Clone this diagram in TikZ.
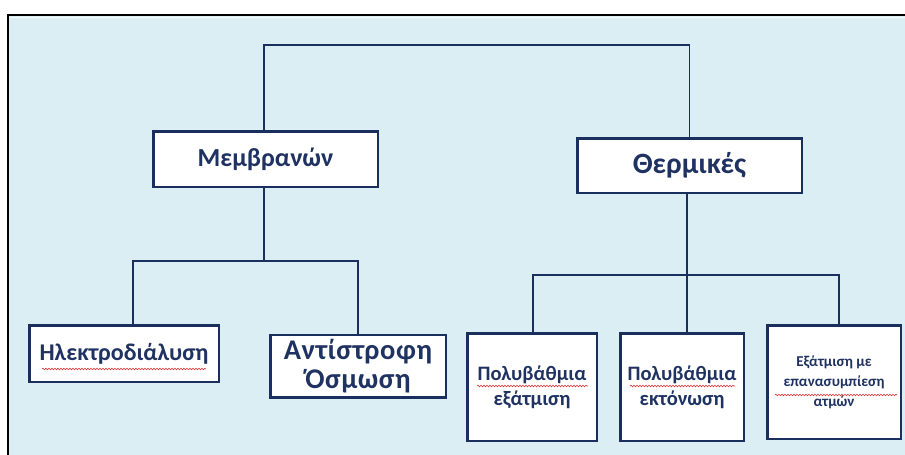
\documentclass[tikz,border=0pt]{standalone}
\usepackage{fontspec}
\setmainfont{Carlito}
\usetikzlibrary{decorations.pathmorphing}
\definecolor{panel}{HTML}{DAEEF3}
\definecolor{navy}{HTML}{1B2F5E}
\definecolor{txt}{HTML}{1F3261}
\definecolor{wavy}{HTML}{E03535}
\tikzset{
  box/.style={draw=navy, line width=2.5pt, fill=white, text=txt, align=center, inner sep=0pt},
  big/.style={font=\fontsize{26}{30}\selectfont\bfseries},
  bigger/.style={font=\fontsize{29.5}{32}\selectfont\bfseries},
  mid/.style={font=\fontsize{24}{28}\selectfont\bfseries},
  anti/.style={font=\fontsize{28.5}{29}\selectfont\bfseries\addfontfeature{LetterSpace=2}},
  small/.style={font=\fontsize{20.5}{25}\selectfont\bfseries},
  tiny/.style={font=\fontsize{15}{20}\selectfont\bfseries},
  link/.style={draw=navy, line width=1.3pt},
  squig/.style={draw=wavy, line width=0.6pt, decorate, decoration={snake, amplitude=0.8pt, segment length=3pt}}
}
\begin{document}
\begin{tikzpicture}[x=1pt,y=-1pt]
\useasboundingbox (0,0) rectangle (905,455);
% panel
\fill[panel] (8,15) rectangle (905,455);
\draw[black, line width=1.6pt] (8,455) -- (8,15) -- (905,15);
\draw[white!70!panel, line width=1pt] (9.5,17.5) -- (905,17.5);

% nodes
\node[box, big, minimum width=224.5pt, minimum height=55.5pt] (mem) at (265.5,159) {Μεμβρανών};
\node[box, bigger, minimum width=224.5pt, minimum height=54.5pt] (therm) at (689.5,165.5) {Θερμικές};
\node[box, mid, minimum width=189.5pt, minimum height=56.5pt] (ilek) at (124,353.5) {Ηλεκτροδιάλυση};
\node[box, anti, minimum width=175.5pt, minimum height=62.5pt] (anti) at (358,366) {Αντίστροφη\\Όσμωση};
\node[box, small, minimum width=129.5pt, minimum height=107.5pt] (poly1) at (532,387) {Πολυβάθμια\\εξάτμιση};
\node[box, small, minimum width=123.5pt, minimum height=107.5pt] (poly2) at (682,387) {Πολυβάθμια\\εκτόνωση};
\node[box, tiny, minimum width=133.5pt, minimum height=113.5pt] (exat) at (834,382) {Εξάτμιση με\\επανασυμπίεση\\ατμών};

% junctions
\coordinate (top) at (264,45);
\coordinate (mj) at (264,261);
\coordinate (tj) at (687,275);

% connectors
\draw[link] (mem.north -| top) -- (top) -| (therm.north);
\draw[link] (mem.south -| mj) -- (mj);
\draw[link] ([xshift=9pt]ilek.north) |- (mj) -| (anti.north);
\draw[link] (therm.south -| tj) -- (tj);
\draw[link] ([xshift=1pt]poly1.north) |- (tj) -| ([xshift=5pt]exat.north);
\draw[link] (tj) -- ([xshift=5pt]poly2.north);

% spell-check underlines
\draw[squig] (42,369) -- (206,369);
\draw[squig] (477,386) -- (588,386);
\draw[squig] (630,386) -- (735,386);
\draw[squig] (775,395) -- (897,395);
\end{tikzpicture}
\end{document}
